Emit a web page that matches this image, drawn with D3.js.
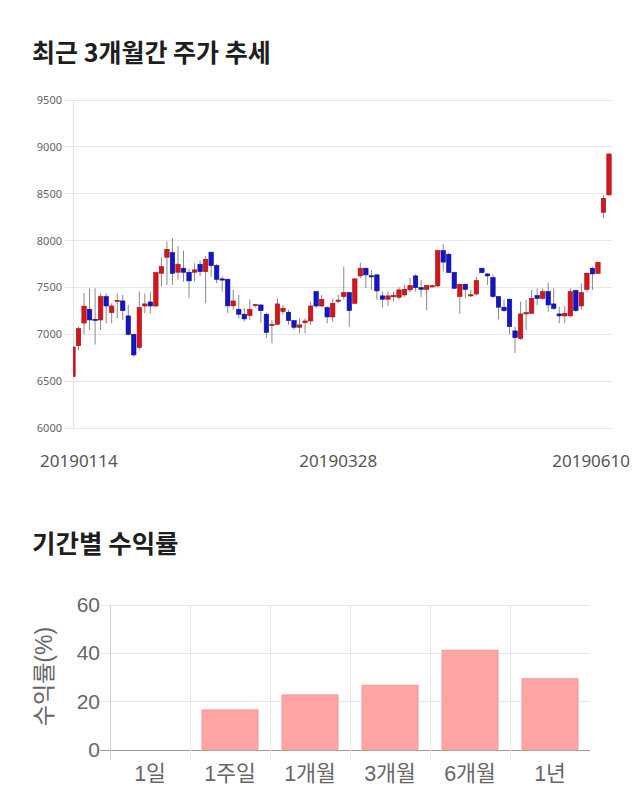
<!DOCTYPE html>
<html><head><meta charset="utf-8">
<script src="https://cdn.jsdelivr.net/npm/d3@7"></script>
<style>
body{margin:0;background:#fff;}
svg{display:block;}
</style></head>
<body>
<svg id="c" width="640" height="810"></svg>
<script>
const opens  = [6550,6880,7120,7267,7160,7153,7402,7231,7350,7356,7196,7000,6858,7302,7345,7302,7651,7822,7872,7662,
7705,7662,7662,7747,7669,7876,7733,7591,7587,7303,7267,7214,7200,7313,7313,7214,7093,7107,7242,7235,
7146,7075,7124,7142,7455,7302,7285,7185,7360,7402,7445,7331,7623,7705,7625,7634,7410,7374,7400,7395,
7420,7474,7623,7498,7480,7515,7516,7893,7854,7660,7402,7534,7420,7430,7705,7644,7605,7402,7289,7374,
7036,6957,7217,7224,7413,7384,7455,7324,7217,7196,7196,7466,7302,7480,7704,7651,8302,8487];
const highs  = [6870,7080,7440,7490,7490,7437,7437,7330,7437,7420,7313,7005,7455,7437,7455,7665,7822,7990,8025,7940,
7893,7700,7758,7790,7836,7880,7750,7616,7595,7474,7420,7278,7374,7324,7320,7230,7153,7384,7313,7260,
7150,7171,7170,7349,7460,7420,7300,7384,7420,7722,7450,7600,7765,7710,7687,7640,7455,7455,7455,7500,
7530,7600,7640,7580,7530,7530,7900,7964,7870,7670,7540,7540,7474,7616,7710,7650,7640,7410,7370,7380,
7082,7349,7366,7473,7490,7490,7551,7490,7295,7302,7490,7480,7544,7660,7722,7775,8487,8930];
const lows   = [6545,6830,7000,7046,6890,7046,7120,7117,7170,7153,6990,6760,6833,7224,7224,7290,7509,7527,7527,7580,
7562,7385,7562,7620,7331,7616,7545,7456,7225,7260,7170,7136,7153,7285,7118,6958,6904,7100,7210,7100,
7046,7010,7010,7100,7278,7290,7117,7135,7331,7367,7082,7320,7600,7491,7474,7367,7288,7302,7350,7370,
7400,7450,7455,7400,7260,7500,7500,7670,7650,7480,7218,7384,7400,7420,7650,7527,7390,7160,7240,7000,
6800,6940,7046,7220,7313,7370,7242,7260,7117,7117,7190,7240,7260,7450,7473,7640,8238,8480];
const closes = [6865,7060,7300,7153,7150,7402,7302,7302,7362,7253,7000,6780,7285,7324,7302,7658,7722,7907,7651,7748,
7662,7570,7687,7669,7800,7733,7587,7587,7303,7356,7214,7164,7267,7318,7253,7021,7107,7324,7278,7146,
7075,7100,7142,7302,7302,7373,7185,7331,7365,7445,7253,7591,7705,7634,7620,7463,7374,7410,7415,7474,
7480,7520,7498,7480,7520,7518,7893,7770,7660,7491,7534,7480,7422,7573,7658,7623,7402,7289,7253,7082,
6964,7217,7231,7384,7384,7455,7313,7277,7196,7224,7455,7253,7445,7651,7644,7768,8451,8924];
const priceTicks = [6000,6500,7000,7500,8000,8500,9000,9500];
const dateLabels = ["20190114","20190328","20190610"];
const dateLabelIdx = [0,48,97];

const periods = ["1일","1주일","1개월","3개월","6개월","1년"];
const returns = [0,16.6,22.8,26.8,41.3,29.5];
const returnTicks = [0,20,40,60];

const svg = d3.select("#c");
const KR = "'Noto Sans CJK KR','Noto Sans',sans-serif";

// titles
svg.append("text").attr("x",32).attr("y",62).text("최근 3개월간 주가 추세")
  .style("font-family",KR).style("font-weight","700").style("font-size","25px").style("fill","#1e1e1e");
svg.append("text").attr("x",32).attr("y",553).text("기간별 수익률")
  .style("font-family",KR).style("font-weight","700").style("font-size","25.5px").style("fill","#1e1e1e");

// ---------- candlestick ----------
const cL=73, cR=612, cT=100, cB=428;
const n = opens.length;
const idx = d3.range(n);
const x = d3.scalePoint().domain(idx).range([cL, 609]);
const y = d3.scaleLinear().domain([6000,9500]).range([cB,cT]);

const g1 = svg.append("g");
g1.selectAll("line.grid").data(priceTicks).join("line")
  .attr("x1",cL-9).attr("x2",cR).attr("y1",d=>y(d)).attr("y2",d=>y(d))
  .attr("stroke","#e6e6e6").attr("stroke-width",1).attr("shape-rendering","crispEdges");
g1.append("line").attr("x1",cL).attr("x2",cL).attr("y1",cT).attr("y2",cB)
  .attr("stroke","#e2e2e2").attr("shape-rendering","crispEdges");
g1.selectAll("text.yt").data(priceTicks).join("text")
  .attr("x",62).attr("y",d=>y(d)+4).attr("text-anchor","end").text(d=>d)
  .style("font-family","'Noto Sans',sans-serif").style("font-size","11px").style("fill","#666");

svg.append("defs").append("clipPath").attr("id","clipc").append("rect")
  .attr("x",cL).attr("y",cT-5).attr("width",cR-cL).attr("height",cB-cT+10);
const cg = g1.append("g").attr("clip-path","url(#clipc)");
const bw = x.step()*0.8;
cg.selectAll("line.wick").data(idx).join("line")
  .attr("x1",i=>x(i)).attr("x2",i=>x(i)).attr("y1",i=>y(highs[i])).attr("y2",i=>y(lows[i]))
  .attr("stroke","#8a8a8a").attr("stroke-width",1);
cg.selectAll("rect.body").data(idx).join("rect")
  .attr("x",i=>x(i)-bw/2).attr("width",bw)
  .attr("y",i=>y(Math.max(opens[i],closes[i])))
  .attr("height",i=>Math.max(1.2, Math.abs(y(opens[i])-y(closes[i]))))
  .attr("fill",i=>closes[i]>=opens[i]?"#d4151c":"#1414c8")
  .attr("stroke",i=>closes[i]>=opens[i]?"#a01015":"#0c0c90").attr("stroke-width",0.6);

// date labels
const dl = g1.selectAll("text.dt").data(dateLabels).join("text")
  .attr("y",467).text(d=>d).attr("text-anchor","middle")
  .style("font-family","'Noto Sans',sans-serif").style("font-size","17px").style("fill","#555");
dl.each(function(d,k){
  const w = this.getComputedTextLength();
  let cx = x(dateLabelIdx[k]);
  cx = Math.max(40 + w/2, Math.min(630 - w/2, cx));
  d3.select(this).attr("x", cx);
});

// ---------- bar chart ----------
const bL=110, bR=590, bT=605, bB=750;
const xb = d3.scaleBand().domain(periods).range([bL,bR]).paddingInner(0.3).paddingOuter(0.15);
const yb = d3.scaleLinear().domain([0,60]).range([bB,bT]);
const g2 = svg.append("g");
g2.selectAll("line.hg").data(returnTicks).join("line")
  .attr("x1",bL-10).attr("x2",bR).attr("y1",d=>yb(d)).attr("y2",d=>yb(d))
  .attr("stroke",d=>d===0?"#9a9a9a":"#e6e6e6").attr("shape-rendering","crispEdges");
g2.selectAll("line.vg").data(periods).join("line")
  .attr("x1",(p,i)=>bL+i*(bR-bL)/periods.length).attr("x2",(p,i)=>bL+i*(bR-bL)/periods.length)
  .attr("y1",bT).attr("y2",bB+10)
  .attr("stroke",(p,i)=>i===0?"#d0d0d0":"#e8e8e8").attr("shape-rendering","crispEdges");
g2.selectAll("rect.bar").data(periods).join("rect")
  .attr("x",p=>xb(p)).attr("width",xb.bandwidth())
  .attr("y",(p,i)=>yb(returns[i])).attr("height",(p,i)=>yb(0)-yb(returns[i]))
  .attr("fill","#ffa4a4").attr("stroke","#f39a9a").attr("stroke-width",1)
  .style("display",(p,i)=>returns[i]>0?null:"none");
g2.selectAll("text.yl").data(returnTicks).join("text")
  .attr("x",100).attr("y",d=>yb(d)+7).attr("text-anchor","end").text(d=>d)
  .style("font-family","'Liberation Sans',Arial,sans-serif").style("font-size","21px").style("fill","#666");
g2.selectAll("text.xl").data(periods).join("text")
  .attr("x",p=>xb(p)+xb.bandwidth()/2).attr("y",781).attr("text-anchor","middle").text(p=>p)
  .style("font-family","'Liberation Sans','Noto Sans CJK KR',sans-serif").style("font-size","21.5px").style("fill","#666");
g2.append("text").attr("transform","translate(52,"+((bT+bB)/2 - 1)+") rotate(-90)")
  .attr("text-anchor","middle").text("수익률(%)")
  .style("font-family","'Liberation Sans','Noto Sans CJK KR',sans-serif").style("font-size","23px").style("fill","#666");
</script>
</body></html>
